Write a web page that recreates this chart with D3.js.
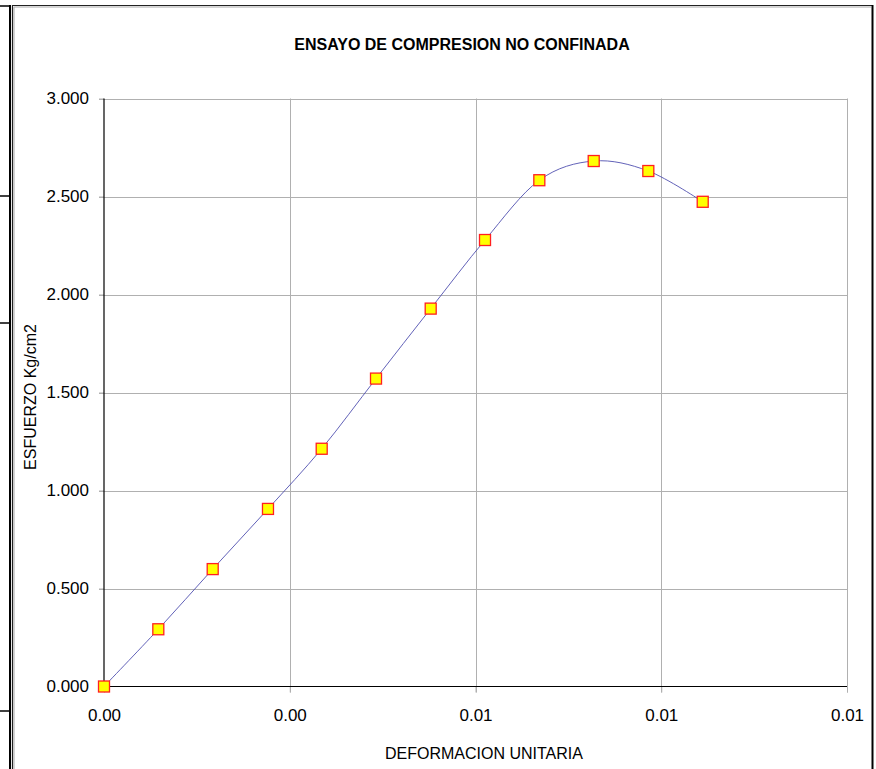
<!DOCTYPE html>
<html>
<head>
<meta charset="utf-8">
<script src="https://cdn.jsdelivr.net/npm/d3@7"></script>
<style>
  html, body { margin: 0; padding: 0; background: #fff; }
  svg { display: block; font-family: "Liberation Sans", Arial, sans-serif; }
</style>
</head>
<body>
<svg id="chart" width="876" height="769"></svg>
<script>
// Unconfined compression test: unit strain vs. stress (kg/cm2)
const strain = [0, 0.000731, 0.001463, 0.002207, 0.002930, 0.003661,
                0.004397, 0.005128, 0.005859, 0.006591, 0.007326, 0.008058];
const stress = [0.000, 0.292, 0.599, 0.906, 1.213, 1.571,
                1.928, 2.278, 2.583, 2.681, 2.630, 2.473];
const xTicks = [0, 0.0025, 0.005, 0.0075, 0.01];
const yTicks = [0, 0.5, 1.0, 1.5, 2.0, 2.5, 3.0];
const titleText = "ENSAYO DE COMPRESION NO CONFINADA";
const xLabel = "DEFORMACION UNITARIA";
const yLabel = "ESFUERZO Kg/cm2";

const svg = d3.select("#chart");
const plot = { left: 104, right: 847, top: 98.5, bottom: 686.5 };

const x = d3.scaleLinear().domain([0, 0.01]).range([plot.left, plot.right]);
const y = d3.scaleLinear().domain([0, 3]).range([plot.bottom, plot.top]);

// Sheet edge and chart frame
const frame = svg.append("g");
frame.append("line").attr("x1", 10).attr("x2", 10).attr("y1", 5).attr("y2", 769)
  .attr("stroke", "#000").attr("stroke-width", 2);
[6, 196, 323, 711].forEach(v => {
  frame.append("line").attr("x1", 0).attr("x2", 10).attr("y1", v).attr("y2", v)
    .attr("stroke", "#000").attr("stroke-width", 1.5);
});
frame.append("path")
  .attr("d", "M12.5,769 V5.5 H872")
  .attr("fill", "none").attr("stroke", "#222").attr("stroke-width", 1.2);
frame.append("path")
  .attr("d", "M14,769 V7 H871")
  .attr("fill", "none").attr("stroke", "#aaa").attr("stroke-width", 1);
frame.append("line").attr("x1", 872.5).attr("x2", 872.5).attr("y1", 5).attr("y2", 769)
  .attr("stroke", "#000").attr("stroke-width", 2);

// Gridlines
const grid = svg.append("g");
grid.selectAll(".hg").data(yTicks.filter(d => d > 0)).join("line")
  .attr("x1", plot.left - 5).attr("x2", plot.right)
  .attr("y1", d => Math.round(y(d)) + 0.5).attr("y2", d => Math.round(y(d)) + 0.5)
  .attr("stroke", "#b0b0b0").attr("stroke-width", 1);
grid.selectAll(".vg").data(xTicks.filter(d => d > 0)).join("line")
  .attr("x1", d => Math.round(x(d)) + 0.5).attr("x2", d => Math.round(x(d)) + 0.5)
  .attr("y1", plot.top).attr("y2", plot.bottom + 6)
  .attr("stroke", "#b0b0b0").attr("stroke-width", 1);

// Axes
const yAxis = d3.axisLeft(y).tickValues(yTicks).tickFormat(d3.format(".3f"))
  .tickSize(5).tickPadding(10);
const yg = svg.append("g").attr("transform", `translate(${plot.left},0)`).call(yAxis);
yg.select(".domain").remove();
yg.selectAll(".tick line").attr("stroke", "#b0b0b0");
yg.selectAll(".tick text").attr("font-size", 17).attr("fill", "#000");

const xAxis = d3.axisBottom(x).tickValues(xTicks).tickFormat(d3.format(".2f"))
  .tickSize(6).tickPadding(16);
const xg = svg.append("g").attr("transform", `translate(0,${plot.bottom})`).call(xAxis);
xg.select(".domain").remove();
xg.selectAll(".tick line").attr("stroke", "#b0b0b0");
xg.selectAll(".tick text").attr("font-size", 17).attr("fill", "#000");

svg.append("line").attr("x1", plot.left).attr("x2", plot.left)
  .attr("y1", plot.top).attr("y2", plot.bottom)
  .attr("stroke", "#000").attr("stroke-width", 1.2);
svg.append("line").attr("x1", plot.left).attr("x2", plot.right)
  .attr("y1", plot.bottom).attr("y2", plot.bottom)
  .attr("stroke", "#000").attr("stroke-width", 1.2);

// Smoothed curve through the readings
const pts = strain.map((s, i) => [s, stress[i]]);
const line = d3.line().x(d => x(d[0])).y(d => y(d[1])).curve(d3.curveCatmullRom.alpha(0));
svg.append("path").datum(pts).attr("d", line)
  .attr("fill", "none").attr("stroke", "#5050b0").attr("stroke-width", 0.9);

// Markers
svg.append("g").selectAll("rect").data(pts).join("rect")
  .attr("x", d => x(d[0]) - 5.5).attr("y", d => y(d[1]) - 5.5)
  .attr("width", 11).attr("height", 11)
  .attr("fill", "#ffff00").attr("stroke", "#ff2020").attr("stroke-width", 1.3);

// Titles
svg.append("text").attr("x", 462).attr("y", 50).attr("text-anchor", "middle")
  .attr("font-size", 16).attr("font-weight", "bold").text(titleText);
svg.append("text").attr("x", 484).attr("y", 759).attr("text-anchor", "middle")
  .attr("font-size", 16).text(xLabel);
svg.append("text").attr("transform", "translate(36,397) rotate(-90)")
  .attr("text-anchor", "middle").attr("font-size", 16).text(yLabel);
</script>
</body>
</html>
